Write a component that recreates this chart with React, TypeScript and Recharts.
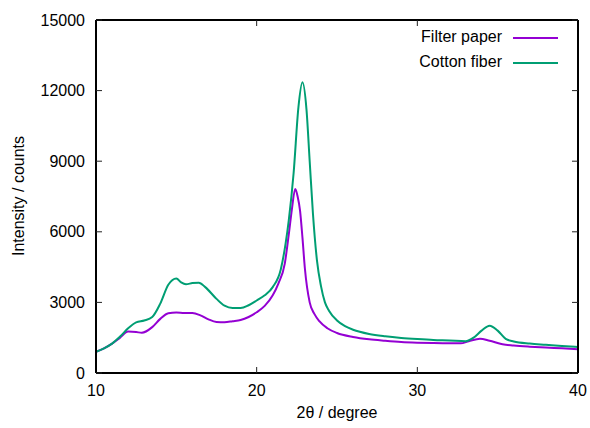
import React from 'react';
import { Legend, Line, LineChart, XAxis, YAxis } from 'recharts';

const seriesNames = ['Filter paper', 'Cotton fiber'];
const seriesColors = ['#9400D3', '#009E73'];

const xTicks = [10, 20, 30, 40];
const yTicks = [0, 3000, 6000, 9000, 12000, 15000];

const filterX = [
	10, 10.5, 11, 11.5, 12, 12.5, 12.85, 13.5, 14, 14.5, 15, 15.5, 16, 16.5, 17, 17.5, 18, 18.5, 19, 19.5,
	20, 20.5, 21, 21.35, 21.75, 22, 22.2, 22.4, 22.55, 22.7, 22.85, 23, 23.3, 23.6, 23.9, 24.4, 25, 26, 27, 28, 29, 30,
	31, 32, 32.7, 33.2, 33.9, 34.5, 35.3, 36, 37, 38, 39, 40,
];
const filterY = [
	900, 1050, 1250, 1500, 1760, 1740, 1710, 1950, 2300, 2540, 2570, 2550, 2550, 2450, 2280, 2170, 2160, 2200,
	2250, 2380, 2580, 2850, 3300, 3800, 4650, 5900, 7000, 7820, 7500, 6900, 5750, 4450, 3000, 2500, 2200, 1900, 1700, 1530,
	1430, 1370, 1320, 1290, 1270, 1260, 1260, 1350, 1460, 1370, 1220, 1170, 1120, 1080, 1050, 1010,
];

const cottonX = [
	10, 10.5, 11, 11.5, 12, 12.5, 13, 13.5, 14, 14.5, 15, 15.3, 15.6, 16, 16.4, 16.8, 17.5, 18, 18.5, 19,
	19.5, 20, 20.5, 21, 21.5, 21.8, 22, 22.3, 22.6, 22.85, 23.1, 23.3, 23.5, 23.75, 24, 24.25, 24.5, 25, 25.5, 26,
	27, 28, 29, 30, 31, 32, 33, 33.5, 34, 34.5, 35, 35.5, 36, 37, 38, 39, 40,
];
const cottonY = [
	900, 1050, 1250, 1550, 1900, 2150, 2230, 2380, 2950, 3750, 4020, 3850, 3770, 3820, 3840, 3650, 3150, 2860,
	2760, 2760, 2880, 3080, 3300, 3650, 4400, 5500, 6500, 8500, 11300, 12350, 11200, 9000, 6800, 4800, 3700, 3000,
	2650, 2230, 1990, 1840, 1660, 1560, 1490, 1440, 1400, 1380, 1350, 1500, 1800, 2010, 1800, 1450, 1340, 1250,
	1200, 1150, 1110,
];

const filterData = filterX.map((x, i) => ({ x, y: filterY[i] }));
const cottonData = cottonX.map((x, i) => ({ x, y: cottonY[i] }));

const font = '"Liberation Sans", Arial, sans-serif';
const fontSize = 16;

// legend keeps the plotting order instead of recharts' alphabetical sort
function LegendBox() {
	return (
		<div style={{ position: 'relative', width: 590, height: 0 }}>
			{seriesNames.map((name, i) => (
				<div
					key={name}
					style={{ position: 'absolute', top: 28 + i * 24.5, left: 380, width: 178, height: 22, fontFamily: font, fontSize }}
				>
					<span style={{ position: 'absolute', right: 56, top: 0, color: '#000', whiteSpace: 'nowrap' }}>{name}</span>
					<span style={{ position: 'absolute', right: 0, top: 9, width: 45, height: 2, background: seriesColors[i] }} />
				</div>
			))}
		</div>
	);
}

const frame = { stroke: '#000', strokeWidth: 2 };
const tickStroke = { stroke: '#222', strokeWidth: 1 };

export default function App() {
	return (
		<div style={{ position: 'fixed', left: 0, top: 0, background: '#fff' }}>
			<LineChart width={590} height={428} margin={{ top: 19, right: 11, bottom: 0, left: 0 }}>
				<XAxis
					xAxisId="b"
					type="number"
					dataKey="x"
					domain={[10, 40]}
					ticks={xTicks}
					height={55}
					allowDataOverflow
					axisLine={frame}
					tickLine={tickStroke}
					tickSize={-6}
					tickMargin={18}
					tick={{ fill: '#000', fontSize, fontFamily: font }}
					label={() => (
						<text x={337} y={418} textAnchor="middle" fill="#000" fontSize={fontSize} fontFamily={font}>
							2θ / degree
						</text>
					)}
				/>
				<XAxis
					xAxisId="t"
					orientation="top"
					type="number"
					dataKey="x"
					domain={[10, 40]}
					ticks={xTicks}
					height={1}
					allowDataOverflow
					axisLine={frame}
					tickLine={tickStroke}
					tickSize={-6}
					tickFormatter={() => ''}
				/>
				<YAxis
					yAxisId="l"
					type="number"
					domain={[0, 15000]}
					ticks={yTicks}
					width={96}
					allowDataOverflow
					axisLine={frame}
					tickLine={tickStroke}
					tickSize={-6}
					tickMargin={17}
					tick={{ fill: '#000', fontSize, fontFamily: font }}
					label={() => (
						<text
							x={24}
							y={196}
							transform="rotate(-90, 24, 196)"
							textAnchor="middle"
							fill="#000"
							fontSize={fontSize}
							fontFamily={font}
						>
							Intensity / counts
						</text>
					)}
				/>
				<YAxis
					yAxisId="r"
					orientation="right"
					type="number"
					domain={[0, 15000]}
					ticks={yTicks}
					width={1}
					allowDataOverflow
					axisLine={frame}
					tickLine={tickStroke}
					tickSize={-6}
					tickFormatter={() => ''}
				/>
				<Legend
					layout="vertical"
					align="center"
					verticalAlign="middle"
					wrapperStyle={{ top: 0, left: 0, width: 590, height: 0 }}
					content={<LegendBox />}
				/>
				<Line
					xAxisId="b"
					yAxisId="l"
					data={filterData}
					dataKey="y"
					name={seriesNames[0]}
					type="monotone"
					stroke={seriesColors[0]}
					strokeWidth={2}
					dot={false}
					isAnimationActive={false}
				/>
				<Line
					xAxisId="b"
					yAxisId="l"
					data={cottonData}
					dataKey="y"
					name={seriesNames[1]}
					type="monotone"
					stroke={seriesColors[1]}
					strokeWidth={2}
					dot={false}
					isAnimationActive={false}
				/>
			</LineChart>
		</div>
	);
}
